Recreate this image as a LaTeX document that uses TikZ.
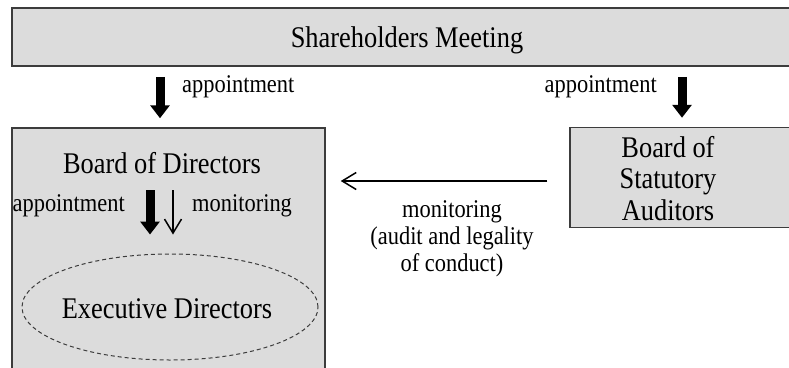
\documentclass[tikz,border=0pt]{standalone}
\usepackage{fontspec}
\setmainfont[FakeStretch=0.88]{Liberation Serif}
\usetikzlibrary{arrows.meta,shapes.geometric}
\definecolor{boxfill}{HTML}{DCDCDC}
\definecolor{boxline}{HTML}{3C3C3C}
\tikzset{
  box/.style={draw=boxline, fill=boxfill, line width=1.5pt, rectangle, inner sep=0pt},
  bigtxt/.style={font=\fontsize{30}{31.5}\selectfont, inner sep=0pt},
  smalltxt/.style={font=\fontsize{25.5}{27}\selectfont, inner sep=0pt},
  bigarrow/.style={line width=9pt, -{Triangle[length=13pt,width=19pt]}},
  thinarrow/.style={line width=1.5pt, -{Straight Barb[length=14pt,width=17pt,line width=1.5pt]}},
}
\begin{document}
\begin{tikzpicture}[x=1pt,y=-1pt]
\useasboundingbox (0,0) rectangle (789,367);
\fill[white] (0,0) rectangle (789,367);
\clip (0,0) rectangle (789,367);
% boxes
\node[box, minimum width=790pt, minimum height=58pt] (sh) at (407,37) {};
\node[bigtxt, anchor=base] (sht) at (407,47) {Shareholders Meeting};
\node[box, minimum width=313pt, minimum height=252pt] (bod) at (168.5,254) {};
\node[bigtxt, anchor=base] (bodt) at (162,173) {Board of Directors};
\node[box, minimum width=230pt, minimum height=100pt] (aud) at (685,177.5) {};
\node[bigtxt, align=center] (audt) at (668,178.5) {Board of\\Statutory\\Auditors};
\node[draw=boxline, dashed, dash pattern=on 4pt off 3pt, line width=1pt, ellipse,
      minimum width=296pt, minimum height=106pt, inner sep=0pt, bigtxt] (ed) at (170,307) {};
\node[bigtxt, anchor=base] (edt) at (167,318) {Executive Directors};
% coordinates for arrow columns
\coordinate (c1) at (160,0);
\coordinate (c2) at (682,0);
\coordinate (c3) at (150,0);
\coordinate (c4) at (173,0);
% top arrows
\draw[bigarrow, shorten <=10pt, shorten >=9pt] (sh.south -| c1) -- (bod.north -| c1);
\draw[bigarrow, shorten <=10pt, shorten >=9pt] (sh.south -| c2) -- (aud.north -| c2);
\node[smalltxt, anchor=base west] (ap1) at (182,92) {appointment};
\node[smalltxt, anchor=base east] (ap2) at (657,92) {appointment};
% inner arrows
\draw[bigarrow, shorten <=17pt, shorten >=19pt] (bodt.base -| c3) -- (ed.north -| c3);
\draw[thinarrow, shorten <=17pt, shorten >=19pt] (bodt.base -| c4) -- (ed.north -| c4);
\node[smalltxt, anchor=base east] (ap3) at (125,211) {appointment};
\node[smalltxt, anchor=base west] (mo1) at (192,211) {monitoring};
% horizontal monitoring arrow
\draw[thinarrow, shorten <=22pt, shorten >=15pt] ([yshift=-3.5pt]aud.west) -- ([yshift=-3.5pt]aud.west -| bod.east);
\node[smalltxt, align=center] (mo2) at (452,239) {monitoring\\(audit and legality\\of conduct)};
\end{tikzpicture}
\end{document}
